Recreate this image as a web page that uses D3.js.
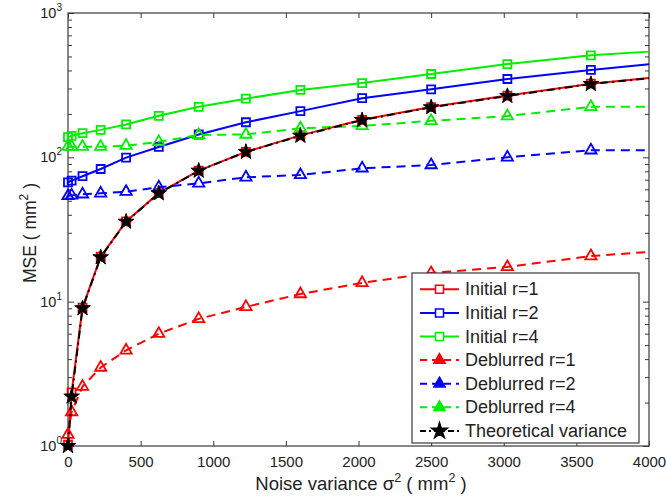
<!DOCTYPE html>
<html>
<head>
<meta charset="utf-8">
<script src="https://cdn.jsdelivr.net/npm/d3@7"></script>
<style>
  html, body { margin: 0; padding: 0; background: #fff; }
  svg { display: block; font-family: "Liberation Sans", Arial, sans-serif; }
</style>
</head>
<body>
<svg id="chart" width="666" height="500"></svg>
<script>
// ---- Data ----
const xValues      = [0, 25, 100, 225, 400, 625, 900, 1225, 1600, 2025, 2500, 3025, 3600, 4000];
const initialR1    = [1.02, 2.35, 9.1, 20.5, 36, 56.5, 81, 109, 142, 182, 223, 268, 324, 355];
const initialR2    = [67, 69, 74, 83, 99.5, 118, 144, 175, 209, 257, 296, 349, 403, 441];
const initialR4    = [138, 141, 147, 155, 169, 194, 224, 255, 293, 327, 378, 443, 509, 540];
const deblurredR1  = [1.2, 1.72, 2.58, 3.5, 4.6, 6.0, 7.6, 9.2, 11.3, 13.5, 15.8, 17.4, 20.7, 22.1];
const deblurredR2  = [54, 54.5, 55.5, 56.3, 57.8, 62, 66, 72.7, 75.5, 84, 88.5, 100, 112, 112];
const deblurredR4  = [118.6, 118.6, 118.6, 118.6, 120.5, 128, 143, 144, 159, 165, 179, 193, 224, 224];
const theoretical  = [1, 2.2, 9.0, 20.3, 35.8, 56.3, 80.8, 109, 141, 181, 222, 266, 322, 353];

const seriesNames  = ["Initial r=1", "Initial r=2", "Initial r=4",
                      "Deblurred r=1", "Deblurred r=2", "Deblurred r=4",
                      "Theoretical variance"];
const xTicks = [0, 500, 1000, 1500, 2000, 2500, 3000, 3500, 4000];
const yTickExps = [0, 1, 2, 3];

// ---- Styles ----
const series = [
  {name: seriesNames[0], values: initialR1,   color: "#ff0000", dash: null,        marker: "square"},
  {name: seriesNames[1], values: initialR2,   color: "#0000ff", dash: null,        marker: "square"},
  {name: seriesNames[2], values: initialR4,   color: "#00ee00", dash: null,        marker: "square"},
  {name: seriesNames[3], values: deblurredR1, color: "#ff0000", dash: "9,6",       marker: "triangle"},
  {name: seriesNames[4], values: deblurredR2, color: "#0000ff", dash: "9,6",       marker: "triangle"},
  {name: seriesNames[5], values: deblurredR4, color: "#00ee00", dash: "9,6",       marker: "triangle"},
  {name: seriesNames[6], values: theoretical, color: "#000000", dash: "8,4,2,4",   marker: "star"}
];

const svg = d3.select("#chart");
const margin = {left: 68, top: 13, right: 17, bottom: 54};
const W = 666, H = 500;
const pw = W - margin.left - margin.right;   // 581
const ph = H - margin.top - margin.bottom;   // 433

const x = d3.scaleLinear().domain([0, 4000]).range([margin.left, margin.left + pw]);
const y = d3.scaleLog().domain([1, 1000]).range([margin.top + ph, margin.top]);

const axisColor = "#3a3a3a";
const textColor = "#222";

// frame
svg.append("rect")
  .attr("x", margin.left).attr("y", margin.top)
  .attr("width", pw).attr("height", ph)
  .attr("fill", "#fff").attr("stroke", axisColor).attr("stroke-width", 1.2);

// x axes (bottom & top), ticks inward
const xb = svg.append("g").attr("transform", `translate(0,${margin.top + ph})`)
  .call(d3.axisBottom(x).tickValues(xTicks).tickSize(-5).tickPadding(10).tickFormat(d3.format("d")));
const xt = svg.append("g").attr("transform", `translate(0,${margin.top})`)
  .call(d3.axisTop(x).tickValues(xTicks).tickSize(-5).tickFormat(""));
[xb, xt].forEach(g => {
  g.select(".domain").remove();
  g.selectAll("line").attr("stroke", axisColor);
});
xb.selectAll("text").attr("font-size", 15).attr("fill", textColor)
  .attr("font-family", "Liberation Sans, Arial, sans-serif");

// y minor ticks
const minorVals = [];
for (let e = 0; e < 3; e++) for (let k = 2; k <= 9; k++) minorVals.push(k * Math.pow(10, e));
const majorVals = yTickExps.map(e => Math.pow(10, e));

const yl = svg.append("g").attr("transform", `translate(${margin.left},0)`)
  .call(d3.axisLeft(y).tickValues(majorVals).tickSize(-6).tickFormat(""));
const ylm = svg.append("g").attr("transform", `translate(${margin.left},0)`)
  .call(d3.axisLeft(y).tickValues(minorVals).tickSize(-4).tickFormat(""));
const yr = svg.append("g").attr("transform", `translate(${margin.left + pw},0)`)
  .call(d3.axisRight(y).tickValues(majorVals).tickSize(-6).tickFormat(""));
const yrm = svg.append("g").attr("transform", `translate(${margin.left + pw},0)`)
  .call(d3.axisRight(y).tickValues(minorVals).tickSize(-4).tickFormat(""));
[yl, ylm, yr, yrm].forEach(g => {
  g.select(".domain").remove();
  g.selectAll("line").attr("stroke", axisColor);
});

// y tick labels 10^n
const yLab = svg.append("g");
yTickExps.forEach(e => {
  const t = yLab.append("text")
    .attr("x", margin.left - 6)
    .attr("y", y(Math.pow(10, e)) + 5)
    .attr("text-anchor", "end")
    .attr("font-size", 14.5)
    .attr("fill", textColor);
  t.append("tspan").text("10");
  t.append("tspan").attr("dy", -7).attr("font-size", 10).text(String(e));
});

// axis labels
const xLabel = svg.append("text")
  .attr("x", 361).attr("y", 490)
  .attr("text-anchor", "middle")
  .attr("font-size", 18.5).attr("fill", textColor);
xLabel.append("tspan").text("Noise variance \u03C3");
xLabel.append("tspan").attr("dy", -8).attr("font-size", 12.5).text("2");
xLabel.append("tspan").attr("dy", 8).text(" ( mm");
xLabel.append("tspan").attr("dy", -8).attr("font-size", 12.5).text("2");
xLabel.append("tspan").attr("dy", 8).text(" )");

const yLabel = svg.append("text")
  .attr("transform", `translate(36,233) rotate(-90)`)
  .attr("text-anchor", "middle")
  .attr("font-size", 17.5).attr("fill", textColor);
yLabel.append("tspan").text("MSE ( mm");
yLabel.append("tspan").attr("dy", -8).attr("font-size", 12).text("2");
yLabel.append("tspan").attr("dy", 8).text(" )");

// ---- series ----
const symbolFor = m => m === "square" ? d3.symbol(d3.symbolSquare, 64)
                    : m === "triangle" ? d3.symbol(d3.symbolTriangle, 55)
                    : d3.symbol(d3.symbolStar, 75);

const line = d3.line().x(d => x(d.x)).y(d => y(d.y));
const plotG = svg.append("g");

series.forEach(s => {
  const pts = xValues.map((xv, i) => ({x: xv, y: s.values[i]}));
  plotG.append("path")
    .datum(pts)
    .attr("d", line)
    .attr("fill", "none")
    .attr("stroke", s.color)
    .attr("stroke-width", 2)
    .attr("stroke-dasharray", s.dash);
  // markers at measured points (the final x=4000 point only extends the line)
  plotG.append("g").selectAll("path")
    .data(pts.slice(0, -1))
    .join("path")
    .attr("d", symbolFor(s.marker)())
    .attr("transform", d => `translate(${x(d.x)},${y(d.y)})`)
    .attr("fill", s.marker === "star" ? s.color : "none")
    .attr("stroke", s.color)
    .attr("stroke-width", s.marker === "star" ? 1 : 1.8);
});

// ---- legend ----
const lg = svg.append("g");
const lx0 = 412, ly0 = 273, lw = 227, lh = 170;
lg.append("rect").attr("x", lx0).attr("y", ly0).attr("width", lw).attr("height", lh)
  .attr("fill", "#fff").attr("stroke", axisColor).attr("stroke-width", 1.2);
series.forEach((s, i) => {
  const cy = 289.3 + i * 23.6;
  lg.append("line")
    .attr("x1", 420).attr("x2", 459).attr("y1", cy).attr("y2", cy)
    .attr("stroke", s.color).attr("stroke-width", 2)
    .attr("stroke-dasharray", s.dash ? (s.marker === "star" ? "6,3,2,3" : "7,5") : null);
  lg.append("path")
    .attr("d", symbolFor(s.marker)())
    .attr("transform", `translate(439.5,${cy})`)
    .attr("fill", s.marker === "square" ? "#fff" : s.color)
    .attr("stroke", s.color).attr("stroke-width", 1.5);
  lg.append("text")
    .attr("x", 465).attr("y", cy + 6)
    .attr("font-size", 18).attr("fill", textColor)
    .text(s.name);
});
</script>
</body>
</html>
